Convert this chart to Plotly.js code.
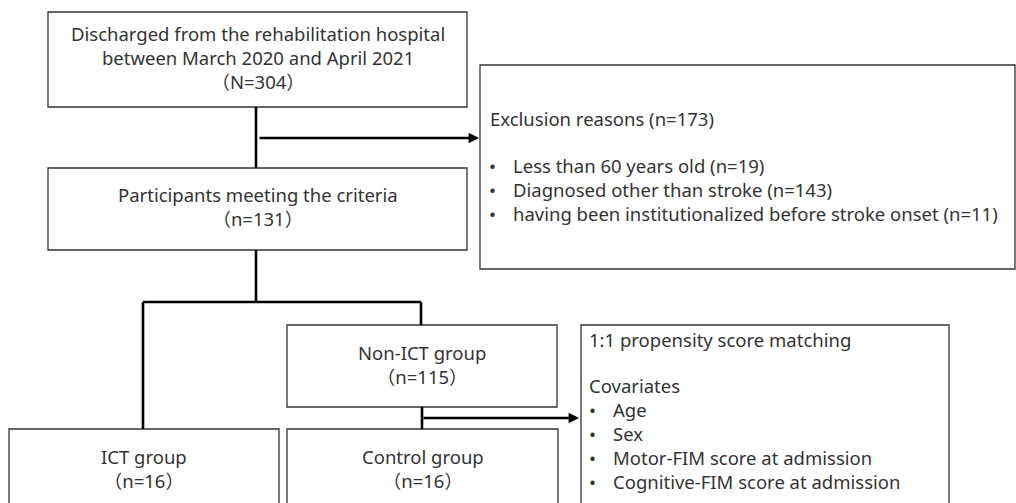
<!DOCTYPE html>
<html><head><meta charset="utf-8">
<script src="https://cdn.plot.ly/plotly-3.0.1.min.js"></script>
<style>html,body{margin:0;padding:0;background:#fff}#chart{width:1016px;height:503px}</style>
</head><body><div id="chart"></div>
<script>
// ---- data ----
const stageNames = ["Discharged from the rehabilitation hospital<br>between March 2020 and April 2021", "Participants meeting the criteria", "Non-ICT group", "ICT group", "Control group"];
const stageSymbols = ["N", "n", "n", "n", "n"];
const stageCounts = [304, 131, 115, 16, 16];
const exclusionTitle = "Exclusion reasons";
const exclusionTotal = 173;
const exclusionReasons = ["Less than 60 years old", "Diagnosed other than stroke", "having been institutionalized before stroke onset"];
const exclusionCounts = [19, 143, 11];
const matchingTitle = "1:1 propensity score matching";
const covariatesTitle = "Covariates";
const covariates = ["Age", "Sex", "Motor-FIM score at admission", "Cognitive-FIM score at admission"];

// ---- layout geometry (pixel space) ----
const W = 1016, H = 503;
const stageBoxes = [[48, 12, 467, 107], [48, 168, 467, 250], [287, 325, 557, 407], [9, 429, 279, 520], [287, 429, 558, 520]];
const stageTextY = [57, 206.5, 364.5, 468, 468];
const exclusionBox = [480, 65, 1015, 269];
const matchingBox = [581, 325, 949, 520];
const connectors = [
  [256, 107, 256, 168], [256, 250, 256, 302], [143, 302, 421, 302],
  [143, 302, 143, 429], [421, 302, 421, 325], [422, 407, 422, 429]
];
const arrows = [[258, 138, 479, 138], [422, 418, 579, 418]];

const FONT = '"Noto Sans", "Noto Sans CJK JP", sans-serif';
const TXT = '#333333';
const FS = 18.5;

const shapes = [];
const boxLine = {color: '#333333', width: 1.3};
stageBoxes.concat([exclusionBox, matchingBox]).forEach(b => {
  shapes.push({type: 'rect', xref: 'x', yref: 'y', x0: b[0], y0: b[1], x1: b[2], y1: b[3], line: boxLine, fillcolor: 'rgba(0,0,0,0)'});
});
connectors.forEach(c => {
  shapes.push({type: 'line', xref: 'x', yref: 'y', x0: c[0], y0: c[1], x1: c[2], y1: c[3], line: {color: '#000', width: 2.6}});
});

const annotations = [];
stageNames.forEach((name, i) => {
  const b = stageBoxes[i];
  annotations.push({
    xref: 'x', yref: 'y', x: (b[0] + b[2]) / 2, y: stageTextY[i], xanchor: 'center', yanchor: 'middle',
    text: name + '<br>（' + stageSymbols[i] + '=' + stageCounts[i] + '）', showarrow: false, align: 'center',
    font: {family: FONT, size: FS, color: TXT}
  });
});
arrows.forEach(a => {
  annotations.push({
    xref: 'x', yref: 'y', axref: 'x', ayref: 'y', x: a[2], y: a[3], ax: a[0], ay: a[1], text: '',
    showarrow: true, arrowhead: 2, arrowsize: 0.8, arrowwidth: 2.6, arrowcolor: '#000', standoff: 0, startstandoff: 0
  });
});
function leftText(x, y, t, anchor) {
  annotations.push({xref: 'x', yref: 'y', x: x, y: y, xanchor: 'left', yanchor: anchor || 'middle', text: t, showarrow: false,
    align: 'left', borderpad: 0, font: {family: FONT, size: FS, color: TXT}});
}
leftText(489, 118, exclusionTitle + ' (n=' + exclusionTotal + ')');
// bullet lists: one column of bullets and one of texts
leftText(488, 189.5, exclusionReasons.map(() => '•').join('<br>'));
leftText(512, 189.5, exclusionReasons.map((r, i) => r + ' (n=' + exclusionCounts[i] + ')').join('<br>'));
leftText(588, 339, matchingTitle);
leftText(588, 433.5, [covariatesTitle].concat(covariates.map(() => '•')).join('<br>'));
leftText(612, 445, covariates.join('<br>'));

const layout = {
  width: W, height: H, margin: {l: 0, r: 0, t: 0, b: 0},
  paper_bgcolor: '#fff', plot_bgcolor: '#fff', showlegend: false,
  xaxis: {range: [0, W], visible: false, fixedrange: true},
  yaxis: {range: [H, 0], visible: false, fixedrange: true},
  shapes: shapes, annotations: annotations
};
Plotly.newPlot('chart', [{x: [], y: [], type: 'scatter', mode: 'markers', hoverinfo: 'skip'}], layout, {displayModeBar: false, staticPlot: true});
</script></body></html>
